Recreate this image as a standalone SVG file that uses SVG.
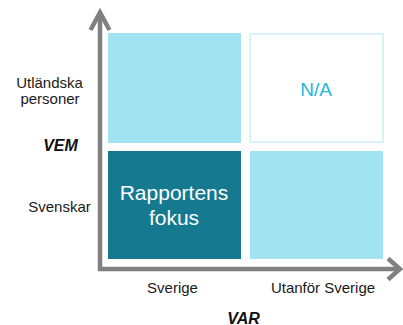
<svg xmlns="http://www.w3.org/2000/svg" width="403" height="325" viewBox="0 0 403 325">
<style>
.lbl{font-family:"Liberation Sans",Arial,sans-serif;font-size:15px;fill:#1a1a1a;text-anchor:middle}
.axt{font-family:"Liberation Sans",Arial,sans-serif;font-size:16px;font-weight:bold;font-style:italic;fill:#111;text-anchor:middle}
.light{fill:#a1e3f1}
.axis{fill:none;stroke:#808080;stroke-width:4.5}
</style>
<rect width="403" height="325" fill="#fff"/>
<g id="q-tl"><rect class="light" x="108" y="33" width="133" height="110"/></g>
<g id="q-tr"><rect x="250" y="34" width="133" height="108" fill="#fff" stroke="#cdeef6" stroke-width="1.5"/>
<text x="316" y="96" font-family="Liberation Sans,Arial,sans-serif" font-size="19" fill="#29b4d9" text-anchor="middle">N/A</text></g>
<g id="q-bl"><rect x="108" y="151" width="133" height="108" fill="#157a90"/>
<text x="174" y="200" font-family="Liberation Sans,Arial,sans-serif" font-size="21" fill="#fff" text-anchor="middle">Rapportens</text>
<text x="174" y="225" font-family="Liberation Sans,Arial,sans-serif" font-size="21" fill="#fff" text-anchor="middle">fokus</text></g>
<g id="q-br"><rect class="light" x="250" y="151" width="133" height="108"/></g>
<g id="connectors">
<path class="axis" d="M100,14 V269 H399"/>
<polyline class="axis" points="90.5,30 100,12.5 109.5,30"/>
<polyline class="axis" points="388,258.5 400,269 388,279.5"/>
</g>
<g id="labels">
<text class="lbl" x="49.5" y="88">Utländska</text>
<text class="lbl" x="50" y="104">personer</text>
<text class="axt" x="60.5" y="151">VEM</text>
<text class="lbl" x="59.5" y="212">Svenskar</text>
<text class="lbl" x="172.5" y="293">Sverige</text>
<text class="lbl" x="323" y="293">Utanför Sverige</text>
<text class="axt" x="243.5" y="323.5">VAR</text>
</g>
</svg>
